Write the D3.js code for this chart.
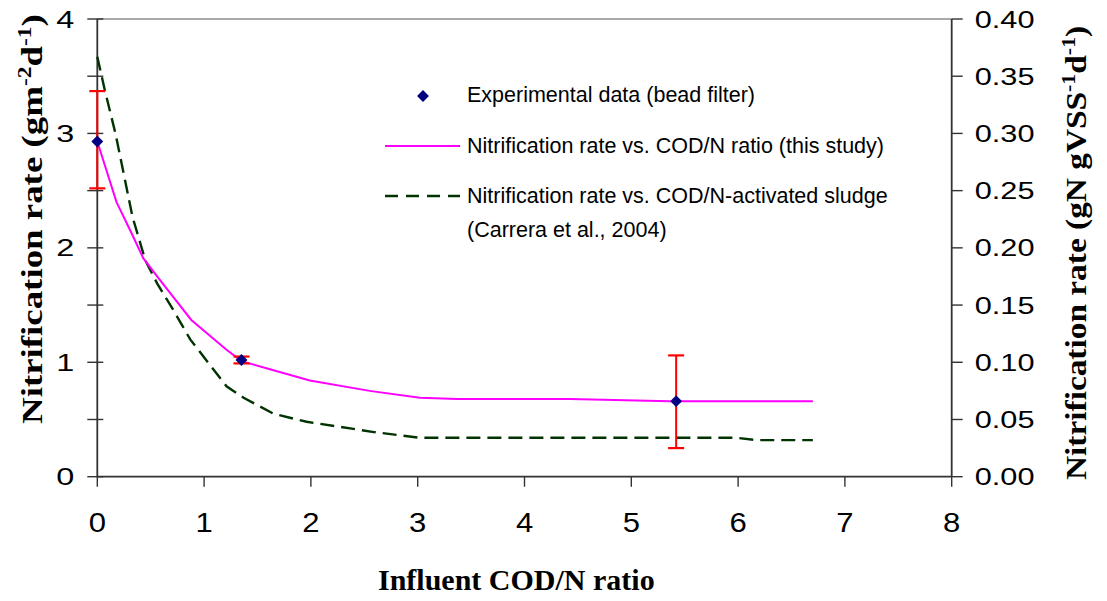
<!DOCTYPE html>
<html>
<head>
<meta charset="utf-8">
<script src="https://cdn.jsdelivr.net/npm/d3@7"></script>
<style>
  body { margin: 0; background: #fff; }
  svg { display: block; }
</style>
</head>
<body>
<div id="chart"></div>
<script>
// experimental points (bead filter) with error bars
var expX  = [0, 1.35, 5.42];
var expY  = [2.93, 1.02, 0.66];
var expLo = [2.52, 0.99, 0.25];
var expHi = [3.37, 1.05, 1.06];

// nitrification rate vs COD/N ratio (this study)
var studyX = [0, 0.18, 0.32, 0.43, 0.56, 0.88, 1.21, 1.35, 1.65, 1.99, 2.55, 3.02, 3.37, 4.43, 5.36, 6.70];
var studyY = [2.93, 2.40, 2.13, 1.91, 1.75, 1.37, 1.11, 1.01, 0.93, 0.84, 0.75, 0.69, 0.68, 0.68, 0.66, 0.66];

// activated sludge (Carrera et al., 2004)
var carreraX = [0, 0.07, 0.17, 0.33, 0.45, 0.56, 0.71, 0.87, 1.21, 1.37, 1.65, 1.96, 2.59, 3.02, 5.99, 6.17, 6.70];
var carreraY = [3.67, 3.38, 3.00, 2.27, 1.89, 1.69, 1.46, 1.20, 0.79, 0.69, 0.55, 0.48, 0.39, 0.34, 0.34, 0.32, 0.32];

var xTicks = [0, 1, 2, 3, 4, 5, 6, 7, 8];
var yTicks = [0, 1, 2, 3, 4];
var yMinorTicks = [0, 0.5, 1, 1.5, 2, 2.5, 3, 3.5, 4];
var yRightTicks = [0, 0.05, 0.10, 0.15, 0.20, 0.25, 0.30, 0.35, 0.40];

var legendLabels = [
  "Experimental data (bead filter)",
  "Nitrification rate vs. COD/N ratio (this study)",
  "Nitrification rate vs. COD/N-activated sludge",
  "(Carrera et al., 2004)"
];

function drawChart() {
  var W = 1107, H = 601;
  var pL = 97.3, pR = 951.7, pT = 19, pB = 476.7;

  var svg = d3.select("#chart").append("svg")
      .attr("width", W)
      .attr("height", H);

  var x = d3.scaleLinear().domain([0, 8]).range([pL, pR]);
  var y = d3.scaleLinear().domain([0, 4]).range([pB, pT]);
  var yR = d3.scaleLinear().domain([0, 0.4]).range([pB, pT]);

  var tickFont = "'Liberation Sans', Arial, sans-serif";
  var titleFont = "'Liberation Serif', 'Times New Roman', serif";

  // top border
  svg.append("line")
      .attr("x1", pL).attr("x2", pR)
      .attr("y1", pT).attr("y2", pT)
      .style("stroke", "#8c8c8c")
      .style("stroke-width", 1.6);

  // left axis: ticks cross the line, labels on integers
  var gL = svg.append("g");
  gL.append("line")
      .attr("x1", pL).attr("x2", pL)
      .attr("y1", pT).attr("y2", pB)
      .style("stroke", "#333").style("stroke-width", 1.8);
  gL.selectAll(".tk").data(yMinorTicks).enter().append("line")
      .attr("x1", pL - 10).attr("x2", pL + 6)
      .attr("y1", function(d) { return y(d); })
      .attr("y2", function(d) { return y(d); })
      .style("stroke", "#333").style("stroke-width", 1.4);
  gL.selectAll("text").data(yTicks).enter().append("text")
      .attr("transform", function(d) { return "translate(" + (pL - 23) + "," + (y(d) + 8.5) + ") scale(1.35,1)"; })
      .attr("text-anchor", "end")
      .style("font-family", tickFont)
      .style("font-size", "24px")
      .text(function(d) { return d; });

  // right axis (per VSS)
  var gR = svg.append("g");
  gR.append("line")
      .attr("x1", pR).attr("x2", pR)
      .attr("y1", pT).attr("y2", pB)
      .style("stroke", "#333").style("stroke-width", 1.8);
  gR.selectAll(".tk").data(yRightTicks).enter().append("line")
      .attr("x1", pR).attr("x2", pR + 11)
      .attr("y1", function(d) { return yR(d); })
      .attr("y2", function(d) { return yR(d); })
      .style("stroke", "#333").style("stroke-width", 1.4);
  gR.selectAll("text").data(yRightTicks).enter().append("text")
      .attr("transform", function(d) { return "translate(" + (pR + 23) + "," + (yR(d) + 8.5) + ") scale(1.28,1)"; })
      .style("font-family", tickFont)
      .style("font-size", "24px")
      .text(function(d) { return d3.format(".2f")(d); });

  // x axis
  var gX = svg.append("g");
  gX.append("line")
      .attr("x1", pL).attr("x2", pR)
      .attr("y1", pB).attr("y2", pB)
      .style("stroke", "#333").style("stroke-width", 1.8);
  gX.selectAll(".tk").data(xTicks).enter().append("line")
      .attr("x1", function(d) { return x(d); })
      .attr("x2", function(d) { return x(d); })
      .attr("y1", pB).attr("y2", pB + 10)
      .style("stroke", "#333").style("stroke-width", 1.4);
  gX.selectAll("text").data(xTicks).enter().append("text")
      .attr("transform", function(d) { return "translate(" + x(d) + ",532) scale(1.15,1)"; })
      .attr("text-anchor", "middle")
      .style("font-family", tickFont)
      .style("font-size", "27px")
      .text(function(d) { return d; });

  // curves
  var line = d3.line()
      .x(function(d) { return x(d[0]); })
      .y(function(d) { return y(d[1]); });

  svg.append("path")
      .datum(d3.zip(carreraX, carreraY))
      .attr("d", line)
      .style("fill", "none")
      .style("stroke", "#003300")
      .style("stroke-width", 2.4)
      .style("stroke-dasharray", "14,7");

  svg.append("path")
      .datum(d3.zip(studyX, studyY))
      .attr("d", line)
      .style("fill", "none")
      .style("stroke", "#ff00ff")
      .style("stroke-width", 2);

  // error bars
  var err = svg.append("g");
  expX.forEach(function(v, i) {
    err.append("line")
        .attr("x1", x(v)).attr("x2", x(v))
        .attr("y1", y(expLo[i])).attr("y2", y(expHi[i]))
        .style("stroke", "#ff0000").style("stroke-width", 2);
    [expLo[i], expHi[i]].forEach(function(e) {
      err.append("line")
          .attr("x1", x(v) - 8).attr("x2", x(v) + 8)
          .attr("y1", y(e)).attr("y2", y(e))
          .style("stroke", "#ff0000").style("stroke-width", 2.2);
    });
  });

  var diamond = d3.symbol().type(d3.symbolDiamond2).size(90);
  svg.selectAll(".pt").data(d3.zip(expX, expY)).enter().append("path")
      .attr("d", diamond)
      .attr("transform", function(d) { return "translate(" + x(d[0]) + "," + y(d[1]) + ")"; })
      .style("fill", "#000080");

  // legend
  var lg = svg.append("g").style("font-family", tickFont).style("font-size", "21.5px");
  lg.append("path")
      .attr("d", diamond)
      .attr("transform", "translate(423,96)")
      .style("fill", "#000080");
  lg.append("line")
      .attr("x1", 385).attr("x2", 460).attr("y1", 146).attr("y2", 146)
      .style("stroke", "#ff00ff").style("stroke-width", 2);
  lg.append("line")
      .attr("x1", 385).attr("x2", 460).attr("y1", 196).attr("y2", 196)
      .style("stroke", "#003300").style("stroke-width", 2.4)
      .style("stroke-dasharray", "13,8");
  var legendY = [102, 153, 203, 237];
  lg.selectAll("text").data(legendLabels).enter().append("text")
      .attr("x", 467)
      .attr("y", function(d, i) { return legendY[i]; })
      .text(function(d) { return d; });

  // axis titles
  svg.append("text")
      .attr("x", 378).attr("y", 590)
      .style("font-family", titleFont)
      .style("font-weight", "bold")
      .style("font-size", "30px")
      .text("Influent COD/N ratio");

  function sup(t, s) {
    t.append("tspan").attr("dy", -11).style("font-size", "19px").text(s);
    return t;
  }

  var tl = svg.append("text")
      .attr("transform", "translate(42,424) rotate(-90) scale(1.23,1)")
      .style("font-family", titleFont)
      .style("font-weight", "bold")
      .style("font-size", "30px");
  tl.append("tspan").text("Nitrification rate (gm");
  sup(tl, "-2");
  tl.append("tspan").attr("dy", 11).text("d");
  sup(tl, "-1");
  tl.append("tspan").attr("dy", 11).text(")");

  var tr = svg.append("text")
      .attr("transform", "translate(1086,480) rotate(-90) scale(1.15,1)")
      .style("font-family", titleFont)
      .style("font-weight", "bold")
      .style("font-size", "29px");
  tr.append("tspan").text("Nitrification rate (gN gVSS");
  sup(tr, "-1");
  tr.append("tspan").attr("dy", 11).text("d");
  sup(tr, "-1");
  tr.append("tspan").attr("dy", 11).text(")");
}

drawChart();
</script>
</body>
</html>
